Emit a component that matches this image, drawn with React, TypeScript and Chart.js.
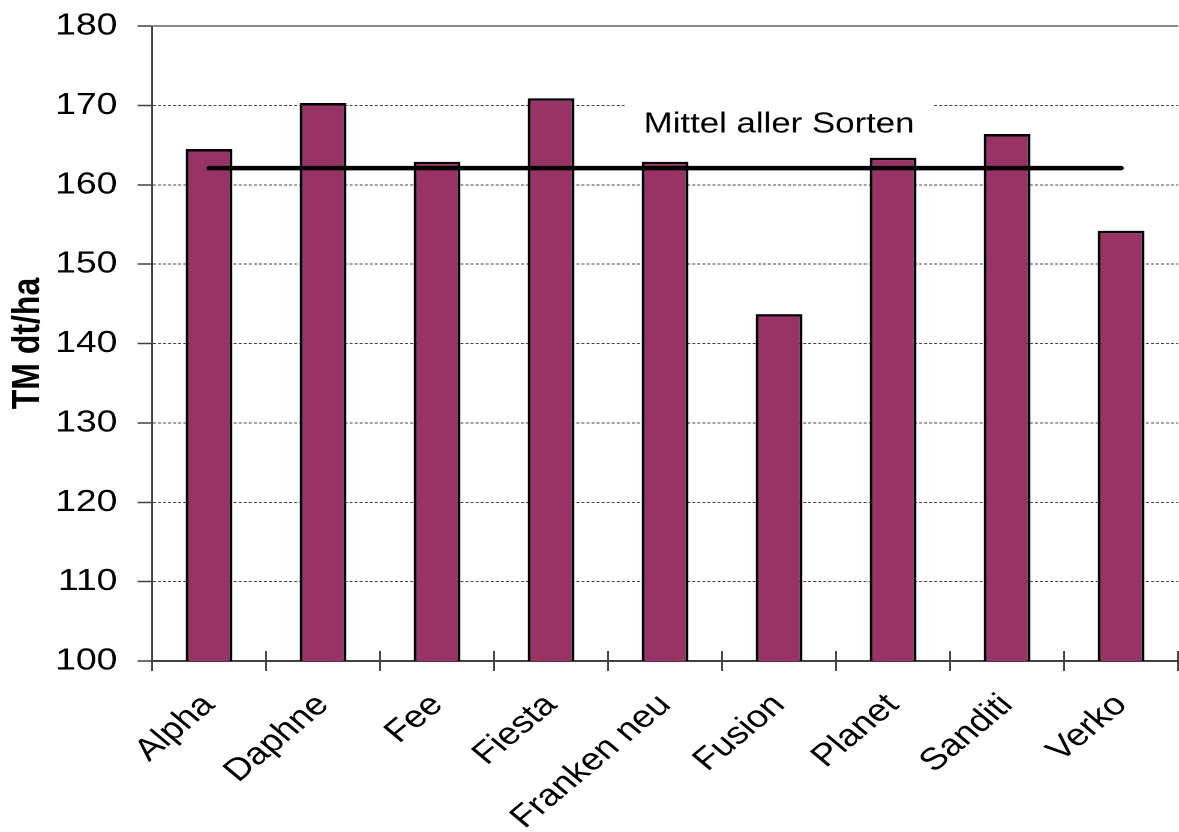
import React, { useEffect, useRef } from "react";
import { Chart, registerables } from "chart.js";

Chart.register(...registerables);

// ---- data ----
const categories = ["Alpha", "Daphne", "Fee", "Fiesta", "Franken neu", "Fusion", "Planet", "Sanditi", "Verko"];
const yieldValues = [164.5, 170.3, 162.9, 170.9, 162.9, 143.7, 163.4, 166.4, 154.2];
const meanValue = 162.1;
const meanLine = categories.map(() => meanValue);
const meanLabel = "Mittel aller Sorten";
const meanLabelCategory = "Fusion";
const meanLabelValue = 166.6;
const yTitle = "TM dt/ha";
const yMin = 100;
const yMax = 180;
const yStep = 10;

// ---- layout ----
const SX = 1.2; // horizontal stretch of the reference picture
const W = 984;
const H = 832;
const FONT = '"Liberation Sans", Arial, Helvetica, sans-serif';

const decorPlugin = {
  id: "decor",
  beforeDatasetsDraw(chart: any) {
    const { ctx, scales } = chart;
    const x = scales.x;
    const y = scales.y;
    const cx = x.getPixelForValue(categories.indexOf(meanLabelCategory));
    const by = y.getPixelForValue(meanLabelValue);
    ctx.save();
    ctx.font = `29px ${FONT}`;
    const tw = ctx.measureText(meanLabel).width;
    ctx.fillStyle = "#ffffff";
    ctx.fillRect(cx - tw / 2 - 16, by - 36, tw + 32, 44);
    ctx.fillStyle = "#000000";
    ctx.textAlign = "center";
    ctx.textBaseline = "alphabetic";
    ctx.fillText(meanLabel, cx, by);
    ctx.restore();
  },
  afterDatasetsDraw(chart: any) {
    const { ctx, scales } = chart;
    const x = scales.x;
    const y = scales.y;
    ctx.save();
    ctx.strokeStyle = "#404040";
    ctx.lineWidth = 1.5;
    ctx.beginPath();
    for (let i = 1; i <= categories.length; i++) {
      const px = x.getPixelForValue(i - 0.5);
      ctx.moveTo(px, y.bottom - 10);
      ctx.lineTo(px, y.bottom);
    }
    ctx.stroke();
    ctx.restore();
  },
};

export default function App() {
  const ref = useRef<HTMLCanvasElement>(null);

  useEffect(() => {
    if (!ref.current) return;
    const chart = new Chart(ref.current, {
      type: "bar",
      data: {
        labels: categories,
        datasets: [
          {
            type: "line",
            data: meanLine,
            borderColor: "#000000",
            borderWidth: 4.5,
            borderCapStyle: "round",
            pointRadius: 0,
            order: 0,
          } as any,
          {
            type: "bar",
            data: yieldValues,
            backgroundColor: "#993366",
            borderColor: "#000000",
            borderWidth: 2.5,
            barPercentage: 0.41,
            categoryPercentage: 1,
            order: 1,
          } as any,
        ],
      },
      options: {
        animation: false,
        responsive: true,
        maintainAspectRatio: false,
        devicePixelRatio: 2,
        layout: { padding: { top: 26, left: 0, right: 0, bottom: 0 } },
        plugins: { legend: { display: false }, tooltip: { enabled: false } },
        scales: {
          x: {
            grid: {
              display: true,
              drawOnChartArea: false,
              drawTicks: true,
              tickLength: 10,
              color: "#404040",
              lineWidth: 1.5,
              offset: true,
            },
            border: { display: true, color: "#404040", width: 2 },
            ticks: {
              color: "#000000",
              font: { family: FONT, size: 31 },
              minRotation: 45,
              maxRotation: 45,
              autoSkip: false,
              padding: 16,
            },
            afterFit: (scale: any) => {
              scale.height = 171;
            },
          },
          y: {
            min: yMin,
            max: yMax,
            grid: {
              color: (c: any) => (c.tick && c.tick.value === yMax ? "#8a8a8a" : "#444444"),
              lineWidth: (c: any) => (c.tick && c.tick.value === yMax ? 2 : 1),
              tickLength: 12,
              tickColor: "#404040",
              tickWidth: 1.5,
            },
            border: {
              display: true,
              color: "#404040",
              width: 1.5,
              dash: (c: any) => (c.tick && c.tick.value === yMax ? [] : [2.5, 1.7]),
            } as any,
            ticks: {
              stepSize: yStep,
              color: "#000000",
              font: { family: FONT, size: 31, lineHeight: 0.5 },
              padding: 17,
            },
            title: {
              display: true,
              text: yTitle,
              color: "#000000",
              font: { family: FONT, size: 32, weight: "bold" },
              padding: { top: 4.5, bottom: 0 },
            },
            afterFit: (scale: any) => {
              scale.width = 126.7;
            },
          },
        },
      },
      plugins: [decorPlugin],
    });
    return () => chart.destroy();
  }, []);

  return (
    <div
      style={{
        position: "fixed",
        left: 0,
        top: 0,
        width: 1179,
        height: 832,
        overflow: "hidden",
        background: "#ffffff",
      }}
    >
      <div
        style={{
          position: "relative",
          width: W,
          height: H,
          transform: `scaleX(${SX})`,
          transformOrigin: "0 0",
        }}
      >
        <canvas ref={ref} />
      </div>
    </div>
  );
}
